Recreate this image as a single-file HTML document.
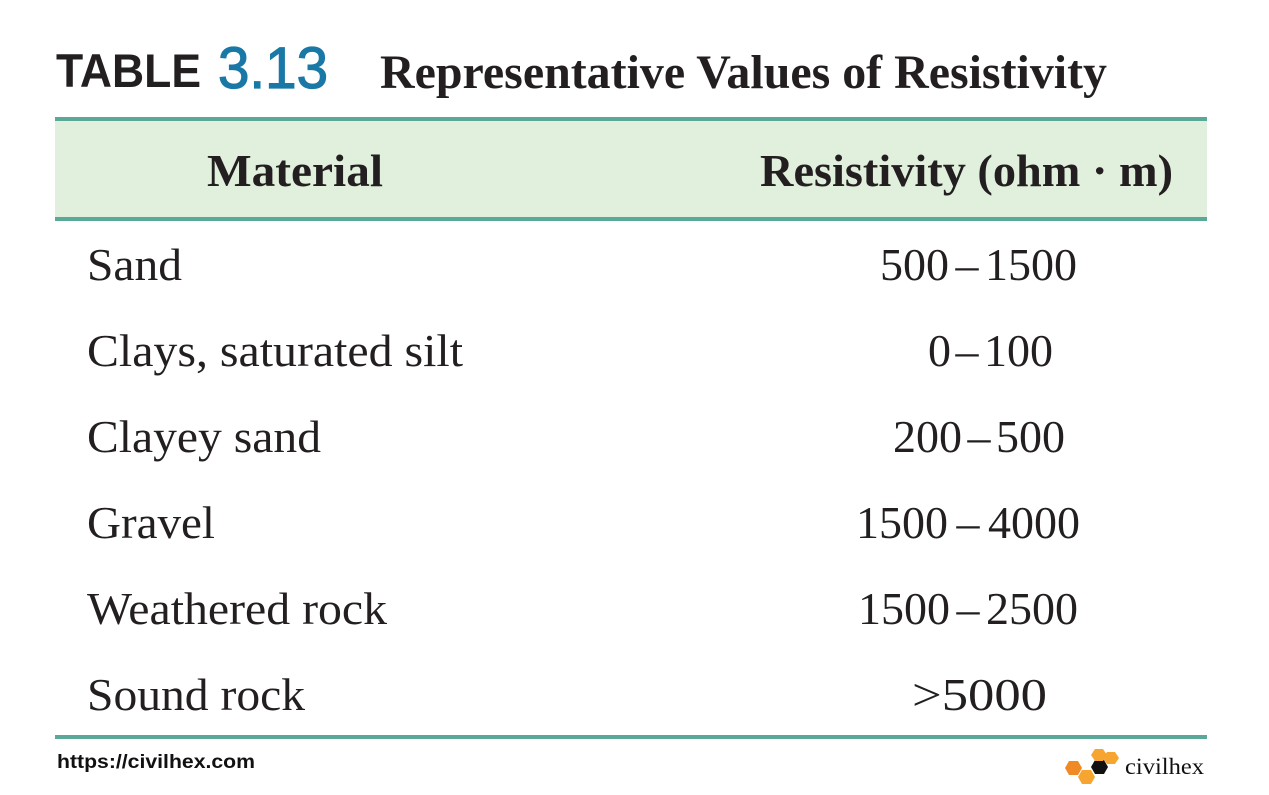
<!DOCTYPE html>
<html><head><meta charset="utf-8"><style>html,body{margin:0;padding:0;background:#fff}svg{display:block}</style></head>
<body>
<svg width="1269" height="795" viewBox="0 0 1269 795" xmlns="http://www.w3.org/2000/svg">
<rect width="1269" height="795" fill="#fff"/>
<text x="56" y="87" font-family="Liberation Sans, sans-serif" font-weight="bold" font-size="47" fill="#231f20" textLength="145" lengthAdjust="spacingAndGlyphs">TABLE</text>
<text x="218" y="88" font-family="Liberation Sans, sans-serif" font-size="58" fill="#1a78a6" stroke="#1a78a6" stroke-width="1.2" textLength="110" lengthAdjust="spacingAndGlyphs">3.13</text>
<text x="380" y="88" font-family="Liberation Serif, serif" font-weight="bold" font-size="48" fill="#231f20" textLength="727" lengthAdjust="spacingAndGlyphs">Representative Values of Resistivity</text>
<rect x="55" y="121" width="1152" height="96" fill="#e1f0dd"/>
<rect x="55" y="117" width="1152" height="4" fill="#5aa898"/>
<rect x="55" y="217" width="1152" height="4" fill="#5aa898"/>
<rect x="55" y="735" width="1152" height="4" fill="#5aa898"/>
<g font-family="Liberation Serif, serif" fill="#231f20">
<text x="207" y="186" font-weight="bold" font-size="46" textLength="176" lengthAdjust="spacingAndGlyphs">Material</text>
<text x="760" y="186" font-weight="bold" font-size="46" textLength="413" lengthAdjust="spacingAndGlyphs">Resistivity (ohm · m)</text>
<g font-size="46">
<text x="87" y="280" textLength="95" lengthAdjust="spacingAndGlyphs">Sand</text>
<text x="87" y="366" textLength="376" lengthAdjust="spacingAndGlyphs">Clays, saturated silt</text>
<text x="87" y="452" textLength="234" lengthAdjust="spacingAndGlyphs">Clayey sand</text>
<text x="87" y="538" textLength="128" lengthAdjust="spacingAndGlyphs">Gravel</text>
<text x="87" y="624" textLength="300" lengthAdjust="spacingAndGlyphs">Weathered rock</text>
<text x="87" y="710" textLength="218" lengthAdjust="spacingAndGlyphs">Sound rock</text>

<text x="880" y="280">500</text><text x="967" y="280" text-anchor="middle">–</text><text x="1077" y="280" text-anchor="end">1500</text>
<text x="928" y="366">0</text><text x="967" y="366" text-anchor="middle">–</text><text x="1053" y="366" text-anchor="end">100</text>
<text x="893" y="452">200</text><text x="979" y="452" text-anchor="middle">–</text><text x="1065" y="452" text-anchor="end">500</text>
<text x="856" y="538">1500</text><text x="968" y="538" text-anchor="middle">–</text><text x="1080" y="538" text-anchor="end">4000</text>
<text x="858" y="624">1500</text><text x="968" y="624" text-anchor="middle">–</text><text x="1078" y="624" text-anchor="end">2500</text>
<text x="912" y="710" textLength="135" lengthAdjust="spacingAndGlyphs">&gt;5000</text>
</g>
</g>
<text x="57" y="768" font-family="Liberation Sans, sans-serif" font-weight="bold" font-size="19" fill="#111" textLength="198" lengthAdjust="spacingAndGlyphs">https://civilhex.com</text>
<g>
<polygon points="1065,768 1069,761 1078,761 1082,768 1078,775 1069,775" fill="#f08a24"/>
<polygon points="1078,777 1082,770 1091,770 1095,777 1091,784 1082,784" fill="#f5a530"/>
<polygon points="1091,767 1095,760 1104,760 1108,767 1104,774 1095,774" fill="#111"/>
<polygon points="1091,755 1095,749 1103,749 1107,755 1103,761 1095,761" fill="#f5a530"/>
<polygon points="1103,758 1107,752 1115,752 1119,758 1115,764 1107,764" fill="#f5a530"/>
</g>
<text x="1125" y="774" font-family="Liberation Serif, serif" font-size="23" fill="#111" textLength="79" lengthAdjust="spacingAndGlyphs">civilhex</text>
</svg>
</body></html>
